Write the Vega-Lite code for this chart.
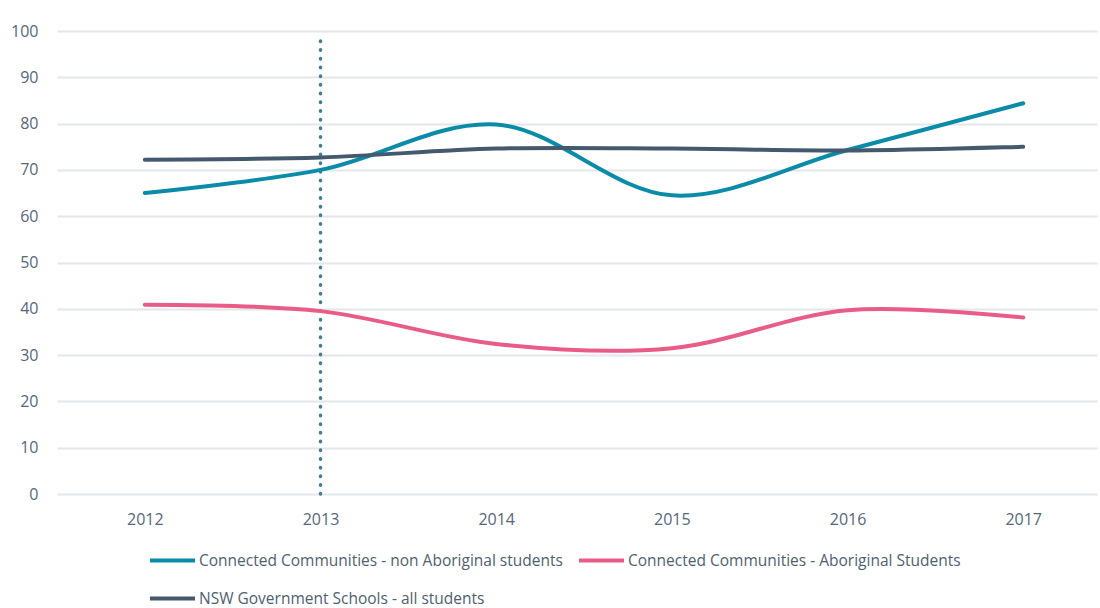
{
  "$schema": "https://vega.github.io/schema/vega-lite/v6.json",
  "width": 1040,
  "height": 463,
  "autosize": {"type": "none"},
  "padding": {"left": 57, "top": 31, "right": 3, "bottom": 114},
  "background": "white",
  "config": {
    "view": {"stroke": null},
    "font": "Open Sans",
    "axis": {"labelFont": "Open Sans", "labelFontSize": 16, "labelColor": "#56677a"}
  },
  "datasets": {
    "series": [
      {"year": 2012, "value": 65.0, "series": "Connected Communities - non Aboriginal students"},
      {"year": 2013, "value": 70.0, "series": "Connected Communities - non Aboriginal students"},
      {"year": 2014, "value": 79.8, "series": "Connected Communities - non Aboriginal students"},
      {"year": 2015, "value": 64.5, "series": "Connected Communities - non Aboriginal students"},
      {"year": 2016, "value": 74.3, "series": "Connected Communities - non Aboriginal students"},
      {"year": 2017, "value": 84.4, "series": "Connected Communities - non Aboriginal students"},
      {"year": 2012, "value": 40.9, "series": "Connected Communities - Aboriginal Students"},
      {"year": 2013, "value": 39.5, "series": "Connected Communities - Aboriginal Students"},
      {"year": 2014, "value": 32.4, "series": "Connected Communities - Aboriginal Students"},
      {"year": 2015, "value": 31.5, "series": "Connected Communities - Aboriginal Students"},
      {"year": 2016, "value": 39.7, "series": "Connected Communities - Aboriginal Students"},
      {"year": 2017, "value": 38.1, "series": "Connected Communities - Aboriginal Students"},
      {"year": 2012, "value": 72.2, "series": "NSW Government Schools - all students"},
      {"year": 2013, "value": 72.7, "series": "NSW Government Schools - all students"},
      {"year": 2014, "value": 74.6, "series": "NSW Government Schools - all students"},
      {"year": 2015, "value": 74.6, "series": "NSW Government Schools - all students"},
      {"year": 2016, "value": 74.2, "series": "NSW Government Schools - all students"},
      {"year": 2017, "value": 75.0, "series": "NSW Government Schools - all students"}
    ],
    "marker": [{"year": 2013, "low": 0, "high": 99.2}]
  },
  "layer": [
    {
      "data": {"name": "marker"},
      "mark": {"type": "rule", "color": "#3f7f98", "strokeWidth": 3.5, "strokeDash": [0.5, 8.2], "strokeCap": "round"},
      "encoding": {
        "x": {"field": "year", "type": "quantitative"},
        "y": {"field": "low", "type": "quantitative"},
        "y2": {"field": "high"}
      }
    },
    {
      "data": {"name": "series"},
      "mark": {"type": "line", "interpolate": "catmull-rom", "strokeWidth": 4, "strokeCap": "round"},
      "encoding": {
        "x": {
          "field": "year", "type": "quantitative",
          "scale": {"domain": [2011.5, 2017.42], "nice": false, "zero": false},
          "axis": {"values": [2012, 2013, 2014, 2015, 2016, 2017], "format": "d", "title": null, "grid": false, "domain": false, "ticks": false, "labelPadding": 17}
        },
        "y": {
          "field": "value", "type": "quantitative",
          "scale": {"domain": [0, 100], "nice": false},
          "axis": {"values": [0, 10, 20, 30, 40, 50, 60, 70, 80, 90, 100], "title": null, "domain": false, "ticks": false, "labelPadding": 19, "gridColor": "#e3e6ea", "gridWidth": 2}
        },
        "color": {
          "field": "series", "type": "nominal",
          "scale": {
            "domain": ["Connected Communities - non Aboriginal students", "Connected Communities - Aboriginal Students", "NSW Government Schools - all students"],
            "range": ["#0a8ba8", "#e95c87", "#44596e"]
          },
          "legend": {
            "title": null,
            "orient": "none",
            "legendX": 91,
            "legendY": 505,
            "direction": "horizontal",
            "columns": 2,
            "columnPadding": 8,
            "rowPadding": 5,
            "symbolType": "stroke",
            "symbolSize": 2025,
            "symbolStrokeWidth": 4,
            "labelFont": "Open Sans",
            "labelFontSize": 15.5,
            "labelColor": "#4f5f70",
            "labelLimit": 500,
            "labelOffset": 2
          }
        }
      }
    }
  ]
}
